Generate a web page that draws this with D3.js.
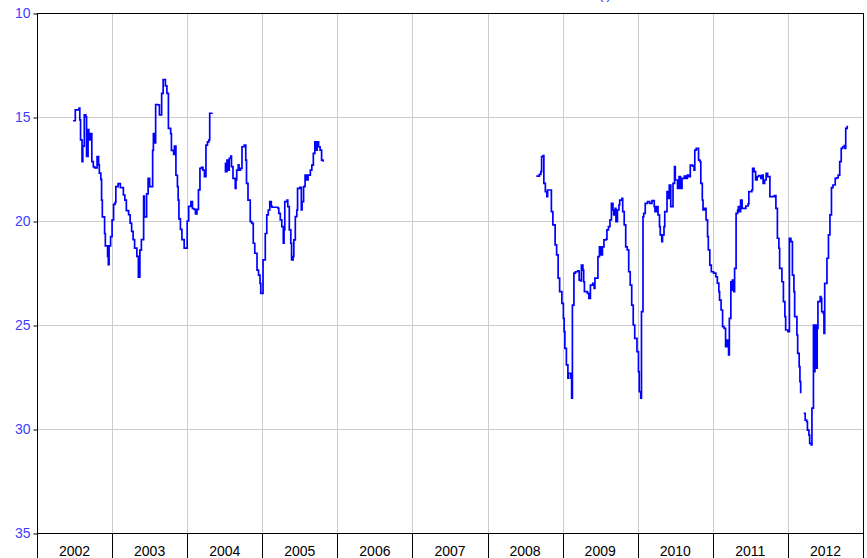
<!DOCTYPE html>
<html>
<head>
<meta charset="utf-8">
<script src="https://cdn.jsdelivr.net/npm/d3@7"></script>
<style>
  body { margin: 0; background: #fff; }
  svg { display: block; font-family: "Liberation Sans", Arial, sans-serif; }
</style>
</head>
<body>
<svg id="chart" width="867" height="558"></svg>
<script>
// weekly series; null = gap in the data
var dates = [
  2002.48, 2002.51, 2002.56, 2002.57, 2002.58, 2002.60, 2002.61, 2002.63, 2002.65, 2002.66,
  2002.68, 2002.69, 2002.71, 2002.73, 2002.75, 2002.77, 2002.80, 2002.82, 2002.83, 2002.85,
  2002.86, 2002.87, 2002.90, 2002.91, 2002.94, 2002.95, 2002.96, 2002.98, 2003.00, 2003.02,
  2003.04, 2003.05, 2003.08, 2003.11, 2003.15, 2003.17, 2003.19, 2003.22, 2003.24, 2003.26,
  2003.28, 2003.30, 2003.33, 2003.35, 2003.37, 2003.39, 2003.42, 2003.43, 2003.46, 2003.48,
  2003.50, 2003.54, 2003.55, 2003.57, 2003.58, 2003.61, 2003.63, 2003.66, 2003.68, 2003.71,
  2003.73, 2003.75, 2003.78, 2003.79, 2003.82, 2003.83, 2003.85, 2003.87, 2003.88, 2003.89,
  2003.91, 2003.93, 2003.96, 2003.98, 2004.00, 2004.02, 2004.05, 2004.07, 2004.09, 2004.11,
  2004.13, 2004.15, 2004.17, 2004.19, 2004.21, 2004.23, 2004.25, 2004.27, 2004.29, 2004.30,
  2004.33, 2004.42,
  2004.50, 2004.51, 2004.53, 2004.55, 2004.56, 2004.58, 2004.59, 2004.61, 2004.64, 2004.65,
  2004.66, 2004.68, 2004.69, 2004.71, 2004.73, 2004.76, 2004.78, 2004.79, 2004.81, 2004.84,
  2004.86, 2004.88, 2004.90, 2004.93, 2004.95, 2004.97, 2004.98, 2005.00, 2005.01, 2005.04,
  2005.06, 2005.08, 2005.10, 2005.12, 2005.13, 2005.17, 2005.21, 2005.22, 2005.24, 2005.26,
  2005.28, 2005.29, 2005.30, 2005.33, 2005.34, 2005.36, 2005.38, 2005.39, 2005.41, 2005.42,
  2005.44, 2005.46, 2005.47, 2005.50, 2005.52, 2005.53, 2005.55, 2005.57, 2005.59, 2005.61,
  2005.64, 2005.66, 2005.68, 2005.70, 2005.72, 2005.73, 2005.75, 2005.77, 2005.79, 2005.81,
  2007.20,
  2008.65, 2008.69, 2008.71, 2008.72, 2008.74, 2008.75, 2008.77, 2008.79, 2008.80, 2008.83,
  2008.85, 2008.87, 2008.90, 2008.92, 2008.94, 2008.96, 2008.99, 2009.01, 2009.02, 2009.03,
  2009.05, 2009.07, 2009.08, 2009.11, 2009.12, 2009.13, 2009.15, 2009.17, 2009.20, 2009.22,
  2009.24, 2009.25, 2009.27, 2009.28, 2009.29, 2009.31, 2009.33, 2009.35, 2009.37, 2009.40,
  2009.42, 2009.43, 2009.46, 2009.47, 2009.49, 2009.51, 2009.53, 2009.55, 2009.58, 2009.59,
  2009.61, 2009.63, 2009.65, 2009.67, 2009.68, 2009.70, 2009.71, 2009.73, 2009.75, 2009.76,
  2009.79, 2009.80, 2009.82, 2009.84, 2009.86, 2009.88, 2009.90, 2009.92, 2009.94, 2009.96,
  2009.99, 2010.01, 2010.02, 2010.04, 2010.05, 2010.07, 2010.08, 2010.10, 2010.13, 2010.16,
  2010.19, 2010.22, 2010.23, 2010.25, 2010.27, 2010.29, 2010.30, 2010.32, 2010.33, 2010.35,
  2010.36, 2010.39, 2010.41, 2010.42, 2010.44, 2010.46, 2010.47, 2010.49, 2010.50, 2010.53,
  2010.55, 2010.57, 2010.59, 2010.62, 2010.64, 2010.66, 2010.68, 2010.70, 2010.73, 2010.75,
  2010.76, 2010.78, 2010.81, 2010.83, 2010.84, 2010.86, 2010.87, 2010.89, 2010.91, 2010.93,
  2010.94, 2010.96, 2010.98, 2011.01, 2011.04, 2011.06, 2011.08, 2011.09, 2011.11, 2011.13,
  2011.15, 2011.17, 2011.19, 2011.21, 2011.22, 2011.24, 2011.25, 2011.26, 2011.28, 2011.29,
  2011.31, 2011.33, 2011.34, 2011.35, 2011.37, 2011.39, 2011.41, 2011.44, 2011.47, 2011.48,
  2011.52, 2011.53, 2011.55, 2011.57, 2011.59, 2011.61, 2011.64, 2011.66, 2011.67, 2011.69,
  2011.71, 2011.73, 2011.75, 2011.76, 2011.79, 2011.82, 2011.84, 2011.86, 2011.88, 2011.89,
  2011.92, 2011.94, 2011.96, 2011.97, 2012.00, 2012.01, 2012.02, 2012.04, 2012.06, 2012.08,
  2012.09, 2012.12, 2012.13, 2012.15, 2012.16, 2012.17,
  2012.19,
  2012.21, 2012.23, 2012.25, 2012.26, 2012.28, 2012.29, 2012.31, 2012.32, 2012.34, 2012.35,
  2012.36, 2012.38, 2012.39, 2012.40, 2012.43, 2012.44, 2012.45, 2012.47, 2012.48, 2012.49,
  2012.52, 2012.54, 2012.56, 2012.58, 2012.60, 2012.63, 2012.65, 2012.67, 2012.69, 2012.71,
  2012.73, 2012.75, 2012.76, 2012.77, 2012.79
];

var values = [
  15.18, 14.66, 14.57, 15.14, 16.10, 17.15, 16.40, 14.90, 14.99, 16.90,
  15.60, 16.10, 15.80, 17.15, 17.40, 17.45, 16.90, 17.30, 17.70, 18.00,
  19.00, 19.80, 20.60, 21.20, 21.70, 22.10, 21.20, 20.75, 19.95, 19.20,
  19.10, 18.35, 18.20, 18.40, 18.75, 19.00, 19.50, 19.70, 20.10, 20.50,
  20.90, 21.30, 21.70, 22.70, 21.40, 20.90, 18.80, 19.80, 18.70, 17.95,
  18.35, 16.60, 15.80, 16.25, 14.40, 14.42, 14.90, 13.86, 13.20, 13.50,
  13.86, 15.55, 15.80, 16.60, 16.80, 16.40, 17.80, 18.35, 19.00, 19.90,
  20.40, 20.90, 21.30, 21.30, 20.00, 19.30, 19.07, 19.40, 19.44, 19.66,
  19.44, 18.50, 17.47, 17.42, 17.55, 17.87, 16.35, 16.20, 16.10, 14.82,
  14.80, null,
  17.23, 17.63, 17.07, 17.55, 16.99, 16.88, 17.39, 17.95, 18.43, 18.03,
  17.55, 17.30, 17.55, 17.47, 16.43, 16.35, 17.07, 18.19, 19.00, 20.03,
  20.11, 21.07, 21.55, 22.36, 22.60, 23.00, 23.48, 23.48, 21.87, 20.60,
  19.71, 19.47, 19.07, 19.30, 19.34, 19.34, 19.39, 19.63, 19.95, 20.27,
  21.07, 20.43, 19.07, 19.00, 19.31, 20.43, 21.07, 21.87, 21.71, 20.91,
  19.79, 19.47, 18.43, 18.38, 19.47, 19.07, 18.35, 17.79, 18.03, 17.79,
  17.55, 17.31, 16.75, 16.19, 16.59, 16.19, 16.43, 16.59, 17.07, 17.15,
  null,
  17.84, 17.76, 17.63, 16.90, 16.86, 18.19, 18.59, 18.83, 18.51, 18.51,
  19.55, 20.19, 21.15, 21.63, 22.75, 23.40, 23.96, 24.68, 25.32, 26.12,
  26.92, 27.56, 27.32, 27.56, 28.52, 24.04, 22.51, 22.44, 22.40, 22.84,
  22.88, 22.12, 22.36, 22.92, 23.40, 23.40, 23.48, 23.72, 23.08, 23.00,
  23.24, 22.75, 22.75, 21.71, 21.24, 21.63, 21.24, 20.91, 20.87, 20.43,
  20.27, 19.95, 19.15, 19.47, 19.71, 19.39, 20.03, 19.47, 19.23, 19.00,
  18.91, 19.55, 20.19, 21.24, 21.39, 22.44, 23.08, 24.04, 25.00, 25.64,
  26.28, 27.24, 28.20, 28.52, 24.36, 19.80, 19.63, 19.15, 19.07, 19.15,
  19.02, 19.31, 19.55, 19.31, 19.71, 20.27, 20.67, 20.99, 20.67, 20.27,
  19.55, 18.59, 18.91, 18.27, 19.31, 19.31, 18.19, 17.39, 18.03, 18.43,
  17.87, 18.43, 17.95, 17.84, 17.95, 17.79, 17.87, 17.31, 17.36, 17.55,
  16.59, 16.51, 17.07, 17.15, 18.19, 18.99, 19.47, 19.39, 19.95, 20.75,
  21.39, 22.12, 22.44, 22.51, 22.68, 22.99, 23.40, 23.80, 24.28, 25.08,
  25.16, 26.04, 25.72, 26.44, 24.68, 22.92, 23.32, 22.84, 23.40, 22.28,
  19.63, 19.47, 19.31, 19.55, 19.00, 19.39, 19.39, 19.28, 19.18, 18.59,
  18.51, 17.47, 17.63, 18.03, 17.87, 17.82, 17.95, 17.79, 18.19, 18.03,
  17.71, 17.87, 17.87, 18.83, 18.83, 18.78, 19.39, 20.83, 21.31, 22.28,
  22.92, 23.88, 24.60, 25.24, 25.32, 25.32, 20.83, 20.99, 22.60, 23.40,
  24.60, 25.48, 26.36, 27.00, 27.72, 28.28,
  null,
  29.25, 29.57, 29.65, 30.05, 30.29, 30.69, 30.77, 29.00, 25.00, 27.24,
  25.00, 27.08, 25.16, 23.88, 23.64, 23.72, 24.36, 24.44, 25.40, 23.00,
  21.79, 20.67, 19.71, 18.40, 18.27, 17.95, 17.92, 17.79, 17.15, 16.51,
  16.43, 16.38, 16.51, 15.55, 15.42
];

var years = [2002, 2003, 2004, 2005, 2006, 2007, 2008, 2009, 2010, 2011, 2012];
var yTicks = [10, 15, 20, 25, 30, 35];

var svg = d3.select('#chart');
var plotL = 37, plotR = 863, plotT = 13, plotB = 533;

var x = d3.scaleLinear().domain([2002, 2013]).range([plotL, plotR]);
// inverted: 10 at the top
var y = d3.scaleLinear().domain([10, 35]).range([plotT, plotB]);

var data = dates.map(function(d, i) { return {t: d, v: values[i]}; });

// title, cut off by the top of the picture
svg.append('text')
  .attr('x', 605).attr('y', -1)
  .attr('text-anchor', 'middle')
  .attr('font-size', 14)
  .attr('fill', '#3333ff')
  .text('(i)');

// grid
svg.append('g').selectAll('line')
  .data(years.slice(1))
  .enter().append('line')
  .attr('x1', function(d) { return Math.round(x(d)) + 0.5; })
  .attr('x2', function(d) { return Math.round(x(d)) + 0.5; })
  .attr('y1', plotT).attr('y2', plotB)
  .attr('stroke', '#cccccc');

svg.append('g').selectAll('line')
  .data(yTicks.slice(1, -1))
  .enter().append('line')
  .attr('x1', plotL).attr('x2', plotR)
  .attr('y1', function(d) { return Math.round(y(d)) + 0.5; })
  .attr('y2', function(d) { return Math.round(y(d)) + 0.5; })
  .attr('stroke', '#cccccc');

// frame
svg.append('rect')
  .attr('x', plotL + 0.5).attr('y', plotT + 0.5)
  .attr('width', plotR - plotL).attr('height', plotB - plotT)
  .attr('fill', 'none')
  .attr('stroke', '#000');

// y axis
var yAxis = svg.append('g')
  .attr('transform', 'translate(' + (plotL + 0.5) + ',0.5)')
  .call(d3.axisLeft(y).tickValues(yTicks).tickSize(4).tickPadding(3));
yAxis.select('.domain').remove();
yAxis.selectAll('text').attr('font-size', 14).attr('fill', '#4040ff')
  .attr('font-family', '"Liberation Sans", Arial, sans-serif');
yAxis.selectAll('line').attr('stroke', '#000');

// x axis: ticks at year boundaries, labels centred in each year
var xg = svg.append('g');
xg.selectAll('line')
  .data(years.concat([2013]))
  .enter().append('line')
  .attr('x1', function(d) { return Math.round(x(d)) + 0.5; })
  .attr('x2', function(d) { return Math.round(x(d)) + 0.5; })
  .attr('y1', plotB).attr('y2', 558)
  .attr('stroke', '#000');
xg.selectAll('text')
  .data(years)
  .enter().append('text')
  .attr('x', function(d) { return x(d + 0.5); })
  .attr('y', 556)
  .attr('text-anchor', 'middle')
  .attr('font-size', 14)
  .attr('fill', '#000')
  .text(function(d) { return d; });

// series, drawn as weekly steps
var line = d3.line()
  .defined(function(d) { return d.v !== null; })
  .curve(d3.curveStepAfter)
  .x(function(d) { return x(d.t); })
  .y(function(d) { return y(d.v); });

svg.append('path')
  .datum(data)
  .attr('d', line)
  .attr('fill', 'none')
  .attr('stroke', '#0000ff')
  .attr('stroke-width', 1.7)
  .attr('stroke-linejoin', 'miter');
</script>
</body>
</html>
